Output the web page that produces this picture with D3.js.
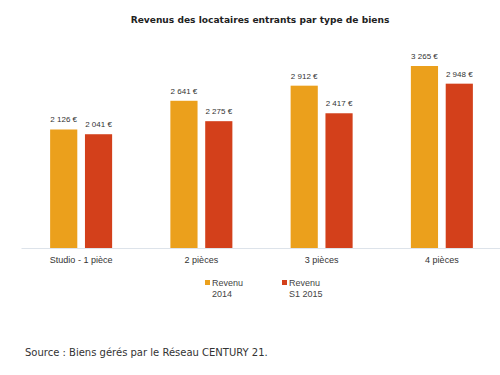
<!DOCTYPE html>
<html><head><meta charset="utf-8">
<script src="https://cdn.jsdelivr.net/npm/d3@7/dist/d3.min.js"></script>
<style>body{margin:0;background:#fff;}svg{display:block;}</style>
</head><body>
<svg id="c" width="500" height="375"></svg>
<script>
const categories = ["Studio - 1 pièce", "2 pièces", "3 pièces", "4 pièces"];
const seriesNames = ["Revenu 2014", "Revenu S1 2015"];
const legendLines = [["Revenu", "2014"], ["Revenu", "S1 2015"]];
const revenu2014 = [2126, 2641, 2912, 3265];
const revenuS12015 = [2041, 2275, 2417, 2948];
const valueLabels2014 = ["2 126 €", "2 641 €", "2 912 €", "3 265 €"];
const valueLabelsS12015 = ["2 041 €", "2 275 €", "2 417 €", "2 948 €"];
const colors = ["#EBA01C", "#D3401B"];

const svg = d3.select("#c");
const baseY = 248;
const x0 = d3.scaleBand().domain(categories).range([21, 502]).paddingInner(0).paddingOuter(0);
const x1 = d3.scaleBand().domain(seriesNames).range([x0.bandwidth()/2 - 31, x0.bandwidth()/2 + 31]).paddingInner(0.22).paddingOuter(0);
const y = d3.scaleLinear().domain([0, 3265]).range([baseY, 66]);

svg.append("text").attr("x", 260).attr("y", 23).attr("text-anchor", "middle")
  .attr("font-family", "DejaVu Sans").attr("font-weight", "bold").attr("font-size", 9.1)
  .attr("fill", "#222").text("Revenus des locataires entrants par type de biens");

// axis line
const axis = svg.append("g").attr("transform", `translate(0,${baseY})`)
  .call(d3.axisBottom(x0).tickSize(0).tickPadding(9));
axis.select(".domain").attr("stroke", "#dde3ea").attr("stroke-width", 1);
axis.selectAll("text").attr("font-family", "Liberation Sans").attr("font-size", 9).attr("fill", "#333");

const data = categories.map((c, i) => ({c, vals: [revenu2014[i], revenuS12015[i]], labs: [valueLabels2014[i], valueLabelsS12015[i]]}));
const g = svg.selectAll("g.grp").data(data).join("g").attr("class", "grp")
  .attr("transform", d => `translate(${x0(d.c)},0)`);
g.selectAll("rect").data(d => d.vals.map((v, k) => ({k, v}))).join("rect")
  .attr("x", d => x1(seriesNames[d.k])).attr("width", x1.bandwidth())
  .attr("y", d => y(d.v)).attr("height", d => baseY - y(d.v))
  .attr("fill", d => colors[d.k]);
g.selectAll("text.val").data(d => d.vals.map((v, k) => ({k, v, l: d.labs[k]}))).join("text")
  .attr("class", "val")
  .attr("x", d => x1(seriesNames[d.k]) + x1.bandwidth()/2).attr("y", d => y(d.v) - 7)
  .attr("text-anchor", "middle").attr("font-family", "Liberation Sans").attr("font-size", 8)
  .attr("fill", "#333").text(d => d.l);

// legend
const legX = [205, 282];
legendLines.forEach((lines, i) => {
  svg.append("rect").attr("x", legX[i]).attr("y", 280).attr("width", 5).attr("height", 5).attr("fill", colors[i]);
  lines.forEach((t, j) => {
    svg.append("text").attr("x", legX[i] + 7).attr("y", 286 + j * 11)
      .attr("font-family", "Liberation Sans").attr("font-size", 9).attr("fill", "#444").text(t);
  });
});

svg.append("text").attr("x", 25).attr("y", 356)
  .attr("font-family", "DejaVu Sans").attr("font-size", 10).attr("fill", "#333")
  .text("Source : Biens gérés par le Réseau CENTURY 21.");
</script>
</body></html>
